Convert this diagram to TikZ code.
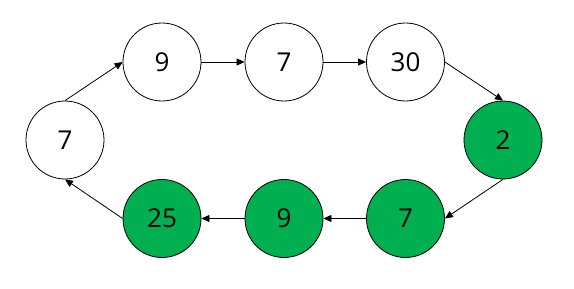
\documentclass[tikz,border=0pt]{standalone}
\usepackage{fontspec}
\setmainfont{Open Sans}
\usetikzlibrary{arrows.meta}
\definecolor{nodegreen}{HTML}{00B050}
\begin{document}
\begin{tikzpicture}[x=1pt,y=-1pt,
  vnode/.style={circle,draw=black,line width=0.8pt,minimum size=78pt,inner sep=0pt,font=\fontsize{26}{30}\selectfont},
  gnode/.style={vnode,fill=nodegreen},
  link/.style={-{Triangle[length=8pt,width=7pt]},line width=0.8pt}]
\useasboundingbox (0,0) rectangle (574,289);
\node[vnode] (a) at (65,140) {7};
\node[vnode] (b) at (162,62) {9};
\node[vnode] (c) at (284,62) {7};
\node[vnode] (d) at (405.5,62) {30};
\node[gnode] (e) at (503,140) {2};
\node[gnode] (f) at (405.5,218.5) {7};
\node[gnode] (g) at (284,218.5) {9};
\node[gnode] (h) at (162,218.5) {25};
\draw[link] (a.north) -- (b.west);
\draw[link] (b.east) -- (c.west);
\draw[link] (c.east) -- (d.west);
\draw[link] (d.east) -- (e.north);
\draw[link] (e.south) -- (f.east);
\draw[link] (f.west) -- (g.east);
\draw[link] (g.west) -- (h.east);
\draw[link] (h.west) -- (a.south);
\end{tikzpicture}
\end{document}
